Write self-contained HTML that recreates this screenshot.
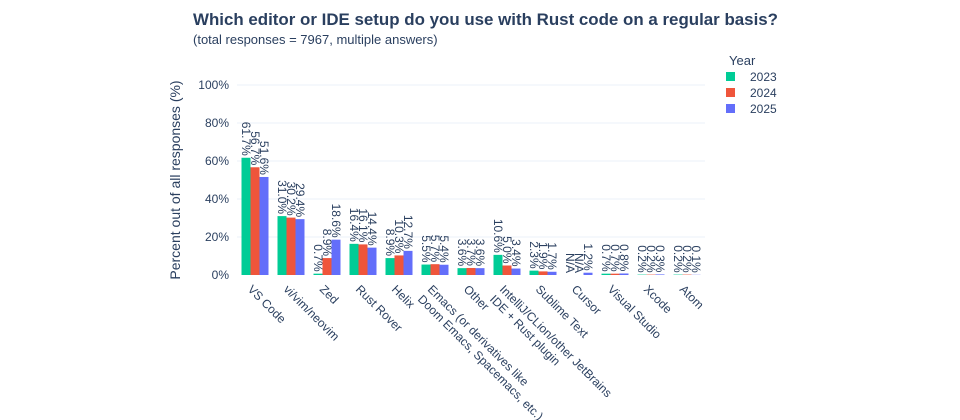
<!DOCTYPE html>
<html><head><meta charset="utf-8"><style>
body{margin:0;background:#fff;}
svg{display:block;font-family:"Liberation Sans",sans-serif;}
</style></head><body>
<svg id="s" width="960" height="420" xmlns="http://www.w3.org/2000/svg">
<text x="193" y="25" font-size="17" font-weight="bold" fill="#2a3f5f" textLength="585" lengthAdjust="spacingAndGlyphs">Which editor or IDE setup do you use with Rust code on a regular basis?</text>
<text x="193" y="44" font-size="13" fill="#2a3f5f">(total responses = 7967, multiple answers)</text>
<text transform="translate(180,180) rotate(-90)" text-anchor="middle" font-size="14" fill="#2a3f5f">Percent out of all responses (%)</text>
<text x="729" y="65" font-size="13" fill="#2a3f5f">Year</text>
<rect x="726" y="72" width="9" height="9" fill="#00cc96"/><text x="750" y="81" font-size="12" fill="#2a3f5f">2023</text>
<rect x="726" y="88" width="9" height="9" fill="#EF553B"/><text x="750" y="97" font-size="12" fill="#2a3f5f">2024</text>
<rect x="726" y="104" width="9" height="9" fill="#636efa"/><text x="750" y="113" font-size="12" fill="#2a3f5f">2025</text>
<g id="g"></g>
</svg>
<script>
var g=document.getElementById('g'),h='';
var X0=237,W=468,Y0=275,S=1.9;
for(var p=0;p<=100;p+=20){var y=Y0-p*S;
 if(p>0)h+='<line x1="'+X0+'" x2="'+(X0+W)+'" y1="'+y+'" y2="'+y+'" stroke="#ebf0f8"/>';
 h+='<text x="229" y="'+(y+4)+'" text-anchor="end" font-size="12" fill="#2a3f5f">'+p+'%</text>';}
var cats=[["VS Code",[61.7,56.7,51.6]],["vi/vim/neovim",[31.0,30.2,29.4]],["Zed",[0.7,8.9,18.6]],["Rust Rover",[16.4,16.1,14.4]],["Helix",[8.9,10.3,12.7]],["Emacs (or derivatives like|Doom Emacs, Spacemacs, etc.)",[5.5,5.7,5.4]],["Other",[3.6,3.7,3.6]],["IntelliJ/CLion/other JetBrains|IDE + Rust plugin",[10.6,5.0,3.4]],["Sublime Text",[2.3,1.9,1.7]],["Cursor",[null,null,1.2]],["Visual Studio",[0.7,0.7,0.8]],["Xcode",[0.2,0.2,0.3]],["Atom",[0.2,0.2,0.1]]];
var cols=["#00cc96","#EF553B","#636efa"];
cats.forEach(function(c,i){var cx=X0+18+36*i;
 c[1].forEach(function(v,j){var bx=cx-13.5+9*j;var vv=v||0;var top=Y0-vv*S;
  if(v!==null)h+='<rect x="'+bx+'" y="'+top+'" width="9" height="'+(vv*S)+'" fill="'+cols[j]+'"/>';
  var lab=v===null?'N/A':v.toFixed(1)+'%';
  h+='<text transform="translate('+(bx+4.5)+','+(top-2)+') rotate(90)" text-anchor="end" dy="4" font-size="12" fill="#2a3f5f">'+lab+'</text>';});
 var ls=c[0].split('|');
 h+='<text transform="translate('+(cx-8)+',290) rotate(45)" font-size="12" fill="#2a3f5f">';
 ls.forEach(function(l,k){h+='<tspan x="0" y="'+(k*14)+'">'+l+'</tspan>';});
 h+='</text>';});
g.innerHTML=h;
</script>
</body></html>
